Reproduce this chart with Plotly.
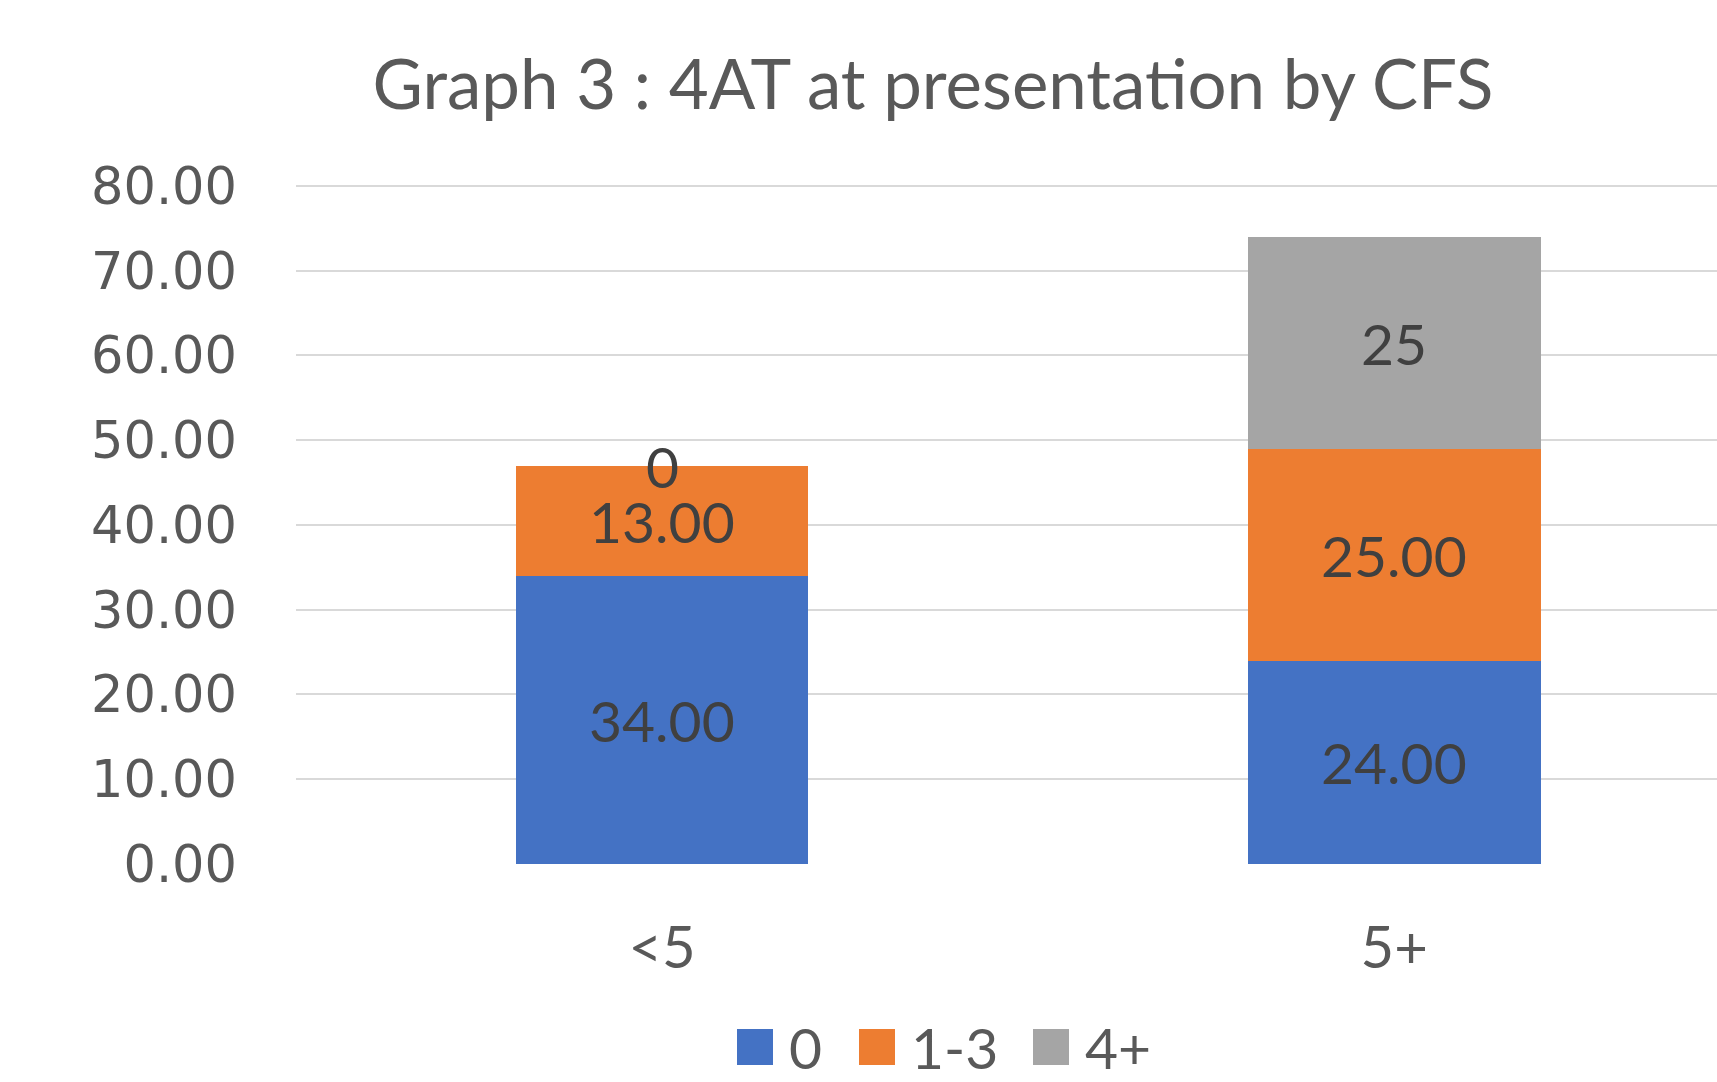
import plotly.graph_objects as go

# Chart data
categories = ["<5", "5+"]
series_names = ["0", "1-3", "4+"]
score_0 = [34, 24]
score_1_3 = [13, 25]
score_4_plus = [0, 25]
label_formats = ["{:.2f}", "{:.2f}", "{:.0f}"]
y_ticks = [0, 10, 20, 30, 40, 50, 60, 70, 80]
y_tick_labels = ["0.00", "10.00", "20.00", "30.00", "40.00", "50.00", "60.00", "70.00", "80.00"]

colors = ["#4472C4", "#ED7D31", "#A5A5A5"]
series_values = [score_0, score_1_3, score_4_plus]

W, H = 1717, 1082
LEFT, TOP, BOTTOM = 296, 183, 218
PW, PH = W - LEFT, H - TOP - BOTTOM


def px_to_paper(px, py):
    """Convert a figure pixel position to plot-area paper coordinates."""
    return (px - LEFT) / PW, (H - BOTTOM - py) / PH


fig = go.Figure()
for name, vals, col in zip(series_names, series_values, colors):
    fig.add_trace(go.Bar(
        x=list(range(len(categories))), y=vals, name=name,
        marker=dict(color=col, line=dict(width=0)),
        width=0.4, showlegend=False, hoverinfo="skip",
    ))

# Data labels centred in each stacked segment
annotations = []
base = [0] * len(categories)
for vals, fmt in zip(series_values, label_formats):
    for i, v in enumerate(vals):
        annotations.append(dict(
            x=i, y=base[i] + v / 2, xref="x", yref="y",
            text=fmt.format(v), showarrow=False,
            font=dict(family="Lato", size=57, color="#404040"),
            xanchor="center", yanchor="middle",
        ))
        base[i] += v

# Custom legend: large squares with labels
legend_cy = 1047
legend_x = [737, 859, 1033]
shapes = []
for lx, name, col in zip(legend_x, series_names, colors):
    x0, y0 = px_to_paper(lx, legend_cy + 18)
    x1, y1 = px_to_paper(lx + 36, legend_cy - 18)
    shapes.append(dict(
        type="rect", xref="paper", yref="paper",
        x0=x0, x1=x1, y0=y0, y1=y1,
        fillcolor=col, line=dict(width=0),
    ))
    tx, ty = px_to_paper(lx + 50, legend_cy)
    annotations.append(dict(
        x=tx, y=ty, xref="paper", yref="paper",
        text=name, showarrow=False, xanchor="left", yanchor="middle",
        font=dict(family="Lato", size=57, color="#595959"),
    ))

fig.update_layout(
    width=W, height=H,
    margin=dict(l=LEFT, r=0, t=TOP, b=BOTTOM),
    paper_bgcolor="white", plot_bgcolor="white",
    barmode="stack",
    title=dict(
        text="Graph 3 : 4AT at presentation by CFS",
        x=933 / W, xanchor="center", y=1 - 85 / H, yanchor="middle",
        font=dict(family="Lato", size=69, color="#595959"),
    ),
    xaxis=dict(
        range=[-0.5, 1.441], tickmode="array",
        tickvals=list(range(len(categories))), ticktext=categories,
        showgrid=False, zeroline=False, showline=False, ticks="",
        tickfont=dict(family="Lato", size=58, color="#595959"),
        ticklabelstandoff=45,
    ),
    yaxis=dict(
        range=[0, 80.35], tickmode="array", tickvals=y_ticks, ticktext=y_tick_labels,
        showgrid=True, gridcolor="#D9D9D9", gridwidth=2,
        zeroline=False, showline=False, ticks="",
        tickfont=dict(family="DejaVu Sans", size=51, color="#595959"),
        ticklabelstandoff=58,
    ),
    shapes=shapes,
    annotations=annotations,
)

fig.write_html("out.html")
